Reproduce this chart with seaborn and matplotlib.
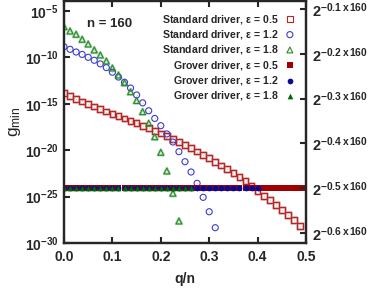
import numpy as np
import matplotlib
matplotlib.use("Agg")
import matplotlib.pyplot as plt
import seaborn as sns
from matplotlib.ticker import FixedLocator, FixedFormatter, NullLocator

sns.set_style("ticks")
plt.rcParams['font.family'] = ['Liberation Sans', 'DejaVu Sans']
plt.rcParams['font.weight'] = 'bold'
plt.rcParams['mathtext.fontset'] = 'custom'
plt.rcParams['mathtext.rm'] = 'Liberation Sans:bold'
plt.rcParams['mathtext.bf'] = 'Liberation Sans:bold'
plt.rcParams['mathtext.it'] = 'Liberation Sans:bold:italic'
plt.rcParams['mathtext.default'] = 'regular'

n = 160
q_step = 2
# log10(g_min), q = 0, 2, 4, ...
std_05_log = [-13.87, -14.17, -14.46, -14.75, -15.03, -15.30, -15.57, -15.84, -16.10, -16.33,
              -16.58, -16.85, -17.10, -17.36, -17.63, -17.91, -18.19, -18.48, -18.80, -19.12,
              -19.45, -19.80, -20.15, -20.50, -20.87, -21.26, -21.65, -22.05, -22.47, -22.90,
              -23.33, -23.85, -24.40, -24.90, -25.38, -25.91, -26.44, -26.98, -27.52, -28.14]
std_12_log = [-8.85, -9.13, -9.42, -9.68, -9.99, -10.31, -10.70, -11.10, -11.60, -12.12,
              -12.68, -13.30, -14.05, -14.90, -15.75, -16.58, -17.36, -18.25, -19.12, -20.16,
              -21.24, -22.35, -23.57, -25.08, -26.63, -28.35]
std_18_log = [-6.69, -7.16, -7.51, -8.05, -8.56, -9.20, -9.74, -10.39, -11.14, -11.90,
              -12.73, -13.70, -14.65, -15.85, -17.10, -18.55, -20.23, -22.24, -24.64, -27.63]
grover_log = -24.08   # all Grover drivers sit at 2^(-n/2)
grover_05_count = 41
grover_12_count = 33
grover_18_count = 22

right_exps = [0.1, 0.2, 0.3, 0.4, 0.5, 0.6]
left_ticks = [1e-5, 1e-10, 1e-15, 1e-20, 1e-25, 1e-30]
left_labels = [r'$10^{-5}$', r'$10^{-10}$', r'$10^{-15}$', r'$10^{-20}$', r'$10^{-25}$', r'$10^{-30}$']
x_ticks = [0.0, 0.1, 0.2, 0.3, 0.4, 0.5]


def xs(count):
    return np.arange(count) * q_step / n


fig = plt.figure(figsize=(3.74, 2.88), dpi=100)
ax = fig.add_axes([64/374, 45/288, 242/374, 242.5/288])

red_o, blue_o, green_o = '#b02828', '#3c3cd0', '#2a8a2a'
red_f, blue_f, green_f = '#a00000', '#0a0a96', '#006a00'

# standard driver: open markers
series = [
    (std_05_log, 's', red_o, '#e3a5a5', r'Standard driver, $\epsilon$ = 0.5', 17),
    (std_12_log, 'o', blue_o, None, r'Standard driver, $\epsilon$ = 1.2', 19),
    (std_18_log, '^', green_o, '#b0d8b0', r'Standard driver, $\epsilon$ = 1.8', 18),
]
for vals, mk, col, halo, lab, s in series:
    x = xs(len(vals))
    y = 10.0 ** np.array(vals)
    if halo is not None:
        sns.scatterplot(x=x, y=y, ax=ax, marker=mk, s=s, facecolor='none',
                        edgecolor=halo, linewidth=1.8, zorder=3)
    sns.scatterplot(x=x, y=y, ax=ax, marker=mk, s=s, facecolor='none',
                    edgecolor=col, linewidth=0.8, zorder=4, label=lab)
    sns.scatterplot(x=x, y=y, ax=ax, marker='.', s=1.2, color=col, linewidth=0, zorder=4)

grover = [
    (grover_05_count, 's', red_f, r'Grover driver, $\epsilon$ = 0.5', 17, 5),
    (grover_12_count, 'o', blue_f, r'Grover driver, $\epsilon$ = 1.2', 17, 6),
    (grover_18_count, '^', green_f, r'Grover driver, $\epsilon$ = 1.8', 17, 7),
]
for cnt, mk, col, lab, s, z in grover:
    x = xs(cnt)
    y = np.full(cnt, 10.0 ** grover_log)
    sns.scatterplot(x=x, y=y, ax=ax, marker=mk, s=s, color=col, linewidth=0,
                    zorder=z, label=lab)

ax.set_yscale('log')
ax.set_xlim(0, 0.5)
ax.set_ylim(1e-30, 10 ** -3.87)
ax.yaxis.set_major_locator(FixedLocator(left_ticks))
ax.yaxis.set_major_formatter(FixedFormatter(left_labels))
ax.yaxis.set_minor_locator(NullLocator())
ax.set_xticks(x_ticks)
ax.set_xticklabels([f'{t:.1f}' for t in x_ticks])
ax.tick_params(axis='both', direction='in', length=4, width=1.5, labelsize=10,
               top=True, right=False, pad=4)
ax.tick_params(axis='x', pad=5)
for sp in ax.spines.values():
    sp.set_linewidth(1.6)

ax.set_xlabel('q/n', fontsize=10, fontweight='bold', labelpad=6)
ax.set_ylabel(r'$g_{min}$', fontsize=12.5, labelpad=1)

ax.text(0.095, 0.905, 'n = 160', transform=ax.transAxes, fontsize=9.5,
        fontweight='bold', ha='left', va='center')

ax2 = ax.twinx()
ax2.set_yscale('log')
ax2.set_ylim(ax.get_ylim())
ax2.yaxis.set_major_locator(FixedLocator([2.0 ** (-e * n) for e in right_exps]))
ax2.yaxis.set_major_formatter(FixedFormatter(
    [r'$2^{-%.1f\,x\,%d}$' % (e, n) for e in right_exps]))
ax2.yaxis.set_minor_locator(NullLocator())
ax2.tick_params(axis='y', direction='in', length=4, width=1.5, labelsize=10.5, pad=4)
for sp in ax2.spines.values():
    sp.set_linewidth(1.6)

leg = ax.legend(loc='upper right', bbox_to_anchor=(0.99, 0.985), frameon=False,
                markerfirst=False, fontsize=7.6, handletextpad=0.6,
                labelspacing=0.22, handlelength=1.0, borderpad=0.3)
for col in leg._legend_handle_box.get_children():
    col.align = 'right'

fig.savefig('out.png', dpi=100)
